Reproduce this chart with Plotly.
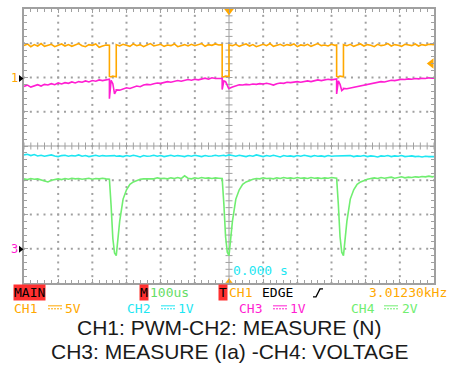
import plotly.graph_objects as go

# ---------------- data (time in microseconds, amplitude in screen divisions) ----------------
t_us = [
    -600, -590, -580, -570, -560, -550, -540, -530, -520, -510, -500, -490, -480, -470, -460,
    -450, -440, -430, -420, -410, -400, -390, -380, -370, -360,
    -350, -350, -345, -340, -335, -330, -330,
    -320, -310, -300, -290, -280, -270, -260, -250, -240, -230, -220, -210, -200, -190, -180,
    -170, -160, -150, -140, -130, -120, -110, -100, -90, -80, -70, -60, -50, -40, -30,
    -20, -20, -15, -10, -5, 0, 0,
    10, 20, 30, 40, 50, 60, 70, 80, 90, 100, 110, 120, 130, 140, 150, 160, 170, 180, 190, 200,
    210, 220, 230, 240, 250, 260, 270, 280, 290, 300, 310,
    315, 315, 320, 325, 330, 335, 335,
    345, 355, 365, 375, 385, 395, 405, 415, 425, 435, 445, 455, 465, 475, 485, 495, 505, 515,
    525, 535, 545, 555, 565, 575, 585, 595, 600,
]

ch1_pwm = [
    2.93, 2.98, 2.90, 2.96, 2.92, 2.99, 2.91, 2.95, 2.97, 2.90, 2.94, 2.98, 2.92, 2.96, 2.91,
    2.95, 2.99, 2.93, 2.90, 2.96, 2.94, 2.98, 2.88, 2.92, 2.95,
    2.94, 2.03, 2.02, 2.04, 2.03, 2.02, 2.96,
    2.92, 2.97, 2.95, 2.91, 2.98, 2.93, 2.96, 2.90, 2.95, 2.99, 2.92, 2.94, 2.97, 2.91, 2.95,
    2.93, 2.98, 2.90, 2.94, 2.96, 2.92, 2.97, 2.93, 2.95, 2.99, 2.91, 2.96, 2.94, 2.98, 2.95,
    2.96, 2.03, 2.02, 2.04, 2.03, 2.03, 2.95,
    2.93, 2.97, 2.91, 2.95, 2.98, 2.92, 2.96, 2.90, 2.94, 2.97, 2.93, 2.99, 2.91, 2.95, 2.97,
    2.92, 2.96, 2.94, 2.98, 2.90, 2.95, 2.93, 2.97, 2.91, 2.96, 2.99, 2.93, 2.95, 2.92, 2.97, 2.94,
    2.95, 2.03, 2.02, 2.04, 2.03, 2.02, 2.96,
    2.93, 2.97, 2.91, 2.95, 2.98, 2.92, 2.96, 2.94, 2.90, 2.97, 2.93, 2.95, 2.99, 2.92, 2.96,
    2.94, 2.91, 2.97, 2.95, 2.93, 2.98, 2.92, 2.96, 2.94, 2.97, 2.95, 2.96,
]

ch2_n = [
    -0.26, -0.24, -0.28, -0.25, -0.29, -0.27, -0.30, -0.28, -0.26, -0.29, -0.31, -0.28, -0.27, -0.30, -0.28,
    -0.29, -0.26, -0.30, -0.28, -0.31, -0.29, -0.27, -0.30, -0.28, -0.29,
    -0.28, -0.28, -0.29, -0.27, -0.28, -0.30, -0.30,
    -0.29, -0.31, -0.28, -0.30, -0.27, -0.29, -0.32, -0.28, -0.30, -0.29, -0.27, -0.30, -0.28, -0.31, -0.29,
    -0.27, -0.30, -0.28, -0.29, -0.31, -0.28, -0.30, -0.27, -0.29, -0.31, -0.28, -0.30, -0.29, -0.27, -0.29,
    -0.28, -0.28, -0.27, -0.29, -0.28, -0.26, -0.26,
    -0.28, -0.30, -0.27, -0.29, -0.31, -0.28, -0.30, -0.26, -0.29, -0.31, -0.28, -0.30, -0.27, -0.29, -0.32,
    -0.28, -0.30, -0.29, -0.31, -0.28, -0.30, -0.27, -0.29, -0.31, -0.28, -0.30, -0.29, -0.31, -0.28, -0.30, -0.29,
    -0.29, -0.29, -0.30, -0.28, -0.30, -0.29, -0.29,
    -0.30, -0.28, -0.31, -0.29, -0.30, -0.28, -0.31, -0.29, -0.30, -0.32, -0.29, -0.30, -0.28, -0.31, -0.29,
    -0.30, -0.28, -0.31, -0.30, -0.29, -0.31, -0.30, -0.32, -0.30, -0.31, -0.32, -0.31,
]

ch3_ia = [
    1.74, 1.78, 1.72, 1.76, 1.79, 1.75, 1.80, 1.78, 1.82, 1.79, 1.84, 1.81, 1.85, 1.83, 1.87,
    1.84, 1.88, 1.86, 1.90, 1.87, 1.91, 1.89, 1.93, 1.91, 1.94,
    1.95, 1.38, 1.92, 1.82, 1.52, 1.62, 1.64,
    1.63, 1.66, 1.70, 1.68, 1.72, 1.75, 1.73, 1.78, 1.80, 1.79, 1.82, 1.84, 1.83, 1.86, 1.88,
    1.86, 1.89, 1.91, 1.89, 1.92, 1.94, 1.92, 1.95, 1.93, 1.96, 1.98, 1.95, 1.99, 1.97, 1.98,
    1.97, 1.65, 1.90, 1.88, 1.75, 1.66, 1.68,
    1.72, 1.76, 1.79, 1.78, 1.80, 1.79, 1.81, 1.80, 1.82, 1.81, 1.83, 1.81, 1.78, 1.82, 1.84,
    1.83, 1.86, 1.85, 1.87, 1.88, 1.86, 1.89, 1.90, 1.88, 1.91, 1.93, 1.91, 1.94, 1.95, 1.93, 1.95,
    1.96, 1.52, 1.90, 1.80, 1.62, 1.66, 1.68,
    1.67, 1.69, 1.72, 1.74, 1.76, 1.79, 1.80, 1.83, 1.84, 1.86, 1.88, 1.87, 1.90, 1.92, 1.91,
    1.93, 1.95, 1.94, 1.96, 1.95, 1.97, 1.96, 1.98, 1.97, 1.99, 1.98, 1.98,
]

ch4_voltage = [
    -0.96, -0.98, -0.95, -0.97, -0.96, -0.99, -1.02, -1.05, -1.00, -0.97, -0.96, -0.98, -0.95, -0.97, -0.94,
    -0.96, -0.95, -0.97, -0.96, -0.94, -0.97, -0.95, -0.96, -0.94, -0.96,
    -0.97, -0.97, -1.75, -2.70, -3.12, -3.20, -3.20,
    -2.20, -1.55, -1.28, -1.12, -1.05, -1.00, -0.97, -0.96, -0.96, -0.94, -0.96, -0.93, -0.95, -0.94, -0.96,
    -0.93, -0.95, -0.92, -0.95, -0.87, -0.94, -0.96, -0.93, -0.95, -0.92, -0.94, -0.93, -0.95, -0.93, -0.94,
    -0.95, -0.95, -1.70, -2.65, -3.10, -3.20, -3.20,
    -2.20, -1.55, -1.28, -1.12, -1.05, -1.00, -0.97, -0.95, -0.96, -0.93, -0.95, -0.94, -0.96, -0.93, -0.95,
    -0.92, -0.94, -0.93, -0.95, -0.92, -0.94, -0.93, -0.95, -0.92, -0.94, -0.93, -0.95, -0.93, -0.94, -0.92, -0.94,
    -0.94, -0.94, -1.70, -2.65, -3.10, -3.20, -3.20,
    -2.20, -1.55, -1.28, -1.12, -1.05, -1.00, -0.97, -0.95, -0.93, -0.95, -0.92, -0.94, -0.93, -0.91, -0.94,
    -0.92, -0.90, -0.93, -0.91, -0.92, -0.90, -0.91, -0.89, -0.90, -0.88, -0.90, -0.89,
]

channel_names = ["CH1", "CH2", "CH3", "CH4"]
channel_scales = ["5V", "1V", "1V", "2V"]
caption_lines = ["CH1: PWM-CH2: MEASURE (N)", "CH3: MEASURE (Ia) -CH4: VOLTAGE"]

# ---------------- styling ----------------
C_OR = "#FFA800"
C_CY = "#1EE6F2"
C_MG = "#FF1ED2"
C_GR = "#70EE70"
C_GRID = "#a0a0a0"
C_RED = "#FF3030"
MONO = "DejaVu Sans Mono"

L, R, T, B = 24, 434, 7, 283
W, H = 454, 365


def px(x):
    return (x - L) / (R - L)


def py(y):
    return (B - y) / (B - T)


fig = go.Figure()

# dotted graticule
gx, gy = [], []
for xv in range(-500, 600, 100):
    if xv == 0:
        continue
    for k in range(-20, 21):
        gx.append(xv)
        gy.append(k * 0.2)
for yv in range(-3, 4):
    if yv == 0:
        continue
    for k in range(-30, 31):
        gx.append(k * 20)
        gy.append(yv)
fig.add_trace(go.Scatter(x=gx, y=gy, mode="markers", hoverinfo="skip",
                         marker=dict(symbol="square", size=2, color=C_GRID, line=dict(width=0))))
# centre cross lines
cx = [k * 20 for k in range(-30, 31)] + [0] * 41
cy = [0] * 61 + [k * 0.2 for k in range(-20, 21)]
fig.add_trace(go.Scatter(x=cx, y=cy, mode="markers", hoverinfo="skip",
                         marker=dict(symbol="cross-thin", size=5, line=dict(width=1, color=C_GRID))))

# waveforms
for vals, col in [(ch1_pwm, C_OR), (ch2_n, C_CY), (ch3_ia, C_MG), (ch4_voltage, C_GR)]:
    fig.add_trace(go.Scatter(x=t_us, y=vals, mode="lines", hoverinfo="skip",
                             line=dict(color=col, width=1.6)))

# trigger markers
fig.add_trace(go.Scatter(x=[0], y=[3.95], mode="markers", cliponaxis=False, hoverinfo="skip",
                         marker=dict(symbol="triangle-down", size=9, color=C_OR)))
fig.add_trace(go.Scatter(x=[0], y=[-3.95], mode="markers", cliponaxis=False, hoverinfo="skip",
                         marker=dict(symbol="triangle-up", size=6, color=C_OR)))
fig.add_trace(go.Scatter(x=[592], y=[2.41], mode="markers", cliponaxis=False, hoverinfo="skip",
                         marker=dict(symbol="triangle-left", size=9, color=C_OR)))

ann = []
shapes = []


def txt(x, y, s, color, size=13, family=MONO, anchor="left", bg=None):
    ann.append(dict(x=px(x), y=py(y), xref="paper", yref="paper", text=s, showarrow=False,
                    xanchor=anchor, yanchor="middle", font=dict(family=family, size=size, color=color),
                    bgcolor=bg, borderpad=0))


# channel ground markers (label + small black arrow at the left edge)
txt(10, 77, "1", C_OR, size=12)
txt(10, 249, "3", C_MG, size=12)
for yc in (77, 249):
    shapes.append(dict(type="path", xref="paper", yref="paper", fillcolor="black",
                       line=dict(color="black", width=0),
                       path="M {} {} L {} {} L {} {} Z".format(px(19), py(yc - 3.5), px(23.5), py(yc),
                                                                px(19), py(yc + 3.5))))

txt(232, 270, "0.000 s", C_CY)

# status row
txt(13, 292.5, "MAIN", "black", bg=C_RED)
txt(139, 292.5, "M", "black", bg=C_RED)
txt(149, 292.5, "100us", "#66DD66")
txt(218, 292.5, "T", "black", bg=C_RED)
txt(228, 292.5, "CH1", C_OR)
txt(261, 292.5, "EDGE", "black")
txt(368, 292.5, "3.01230kHz", C_OR)

# channel scale row
row_cols = [C_OR, C_CY, C_MG, C_GR]
name_x = [13, 126, 238, 350]
sym_x = [48, 161, 273, 384]
val_x = [64, 177, 289, 401]
for i in range(4):
    txt(name_x[i], 308.5, channel_names[i], row_cols[i])
    txt(val_x[i], 308.5, channel_scales[i], row_cols[i])
    shapes.append(dict(type="line", xref="paper", yref="paper", x0=px(sym_x[i]), x1=px(sym_x[i] + 14),
                       y0=py(306), y1=py(306), line=dict(color=row_cols[i], width=1)))
    shapes.append(dict(type="line", xref="paper", yref="paper", x0=px(sym_x[i]), x1=px(sym_x[i] + 14),
                       y0=py(309), y1=py(309), line=dict(color=row_cols[i], width=1, dash="2px,1px")))

# rising edge symbol
shapes.append(dict(type="path", xref="paper", yref="paper",
                   path="M {} {} L {} {} L {} {} L {} {}".format(px(313), py(297), px(316), py(297),
                                                                   px(320), py(289), px(323), py(289)),
                   line=dict(color="black", width=1.3)))

# caption
txt(229, 328, caption_lines[0], "#1a1a1a", size=21, family="Liberation Sans", anchor="center")
txt(229.5, 352, caption_lines[1], "#1a1a1a", size=21, family="Liberation Sans", anchor="center")

axis_common = dict(showgrid=False, zeroline=False, showticklabels=False, showline=True,
                   linecolor=C_GRID, linewidth=2, mirror="allticks", ticks="inside", ticklen=4,
                   tickcolor=C_GRID, tickwidth=1, fixedrange=True)

fig.update_layout(
    width=W, height=H, margin=dict(l=L, r=W - R, t=T, b=H - B),
    paper_bgcolor="white", plot_bgcolor="white", showlegend=False,
    xaxis=dict(range=[-600, 600], dtick=100, tick0=0,
               minor=dict(dtick=20, tick0=0, ticks="inside", ticklen=3, tickcolor=C_GRID), **axis_common),
    yaxis=dict(range=[-4, 4], dtick=1, tick0=0,
               minor=dict(dtick=0.2, tick0=0, ticks="inside", ticklen=3, tickcolor=C_GRID), **axis_common),
    annotations=ann, shapes=shapes,
)

fig.write_html("out.html", config={"displayModeBar": False})

# remove the browser's default page margin so the figure sits at the window's top-left corner
with open("out.html", "r", encoding="utf-8") as f:
    html = f.read()
html = html.replace("<body>", '<body style="margin:0;padding:0;overflow:hidden">', 1)
with open("out.html", "w", encoding="utf-8") as f:
    f.write(html)
